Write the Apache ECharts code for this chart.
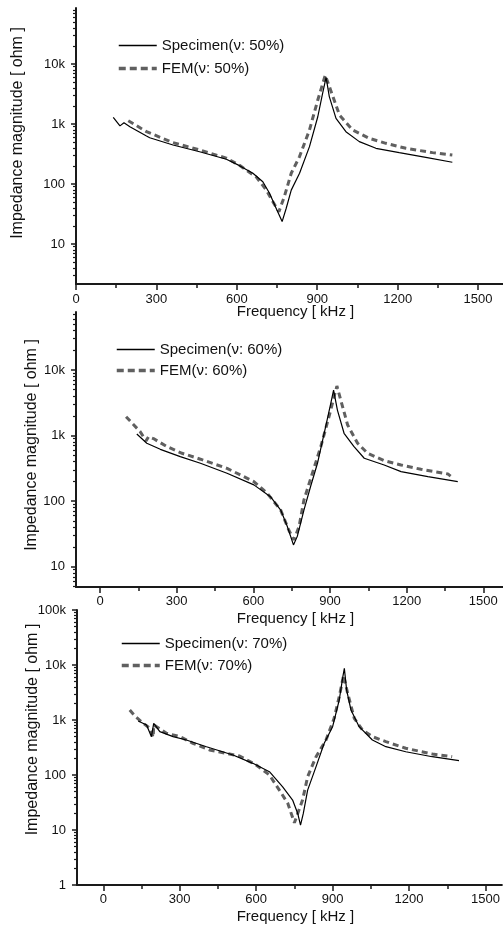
<!DOCTYPE html>
<html><head><meta charset="utf-8">
<script src="https://cdn.jsdelivr.net/npm/echarts@6/dist/echarts.min.js"></script>
<style>html,body{margin:0;padding:0;background:#fff}#c{width:503px;height:927px}</style>
</head><body><div id="c"></div>
<script>
// ---- tick values ----
const xTicks = [0, 300, 600, 900, 1200, 1500];
const xMinorTicks = [150, 450, 750, 1050, 1350];
const yTicks = [1, 10, 100, 1000, 10000, 100000];

// ---- data: frequency [kHz] / impedance [ohm] ----
const spec50F = [139,164,179,201,263,275,282,362,461,561,610,660,697,722,747,769,784,803,834,871,902,920,933,945,970,1007,1057,1119,1206,1305,1404];
const spec50Z = [1290,930,1050,900,630,590,600,447,345,258,202,151,109,70,39,23.6,39,79,151,419,1320,3250,6000,2860,1240,745,508,393,333,278,230];
const fem50F  = [195,263,362,461,561,610,673,710,734,757,777,803,834,871,902,930,952,983,1032,1094,1156,1231,1330,1404];
const fem50Z  = [1135,745,489,369,270,205,130,79,51,34.5,61,151,286,794,2510,6500,3460,1410,794,577,476,393,333,304];

const spec60F = [144,183,236,314,393,497,602,667,707,733,757,772,798,824,851,883,903,914,929,955,994,1034,1112,1178,1283,1400];
const spec60Z = [1057,764,617,478,378,266,177,117,73,41,21.5,29,73,167,378,1370,3100,4950,2450,1084,678,451,356,282,237,199];
const fem60F  = [102,124,157,180,190,209,262,321,393,497,602,654,707,739,759,779,798,831,864,896,916,927,942,969,1008,1047,1112,1178,1256,1361,1372];
const fem60Z  = [1940,1570,1150,830,960,900,678,537,436,316,199,132,73,36,25.6,41,104,266,678,1940,3920,5700,3490,1450,764,537,414,356,306,260,240];

const spec70F = [137,170,189,198,222,274,326,405,509,587,652,704,743,763,774,785,802,835,867,900,926,940,946,955,972,1004,1056,1109,1187,1291,1396];
const spec70Z = [959,811,498,871,614,498,433,327,231,163,115,61,35,20,12.3,20,53,142,377,757,2310,6100,8700,3510,1520,757,433,327,265,215,182];
const fem70F  = [104,124,157,183,196,198,209,248,300,352,417,535,600,652,691,724,750,763,782,802,835,874,906,926,943,959,985,1017,1056,1109,1187,1291,1369];
const fem70Z  = [1520,1180,871,705,484,811,757,573,500,377,285,221,152,100,53,30.6,13.5,20,35,93,215,433,1072,2660,6500,3055,1072,658,498,404,306,241,215];

const pct = ['50%', '60%', '70%'];
const specF = [spec50F, spec60F, spec70F], specZ = [spec50Z, spec60Z, spec70Z];
const femF = [fem50F, fem60F, fem70F], femZ = [fem50Z, fem60Z, fem70Z];

// ---- layout ----
const panels = [
  {left: 76, top: 8,   width: 427, height: 276, xMin: 0,   xMax: 1593, yMin: 2.15, yMax: 85800,
   legTop: 38, legLeft: 117, legGap: 8, xNameGap: 20, yNameGap: 50, yNamePad: 26, xLabMargin: 9},
  {left: 76, top: 312, width: 427, height: 275, xMin: -94, xMax: 1577, yMin: 4.9, yMax: 76700,
   legTop: 342, legLeft: 115, legGap: 6, xNameGap: 24, yNameGap: 36, yNamePad: 9, xLabMargin: 8},
  {left: 77, top: 610, width: 426, height: 275, xMin: -103, xMax: 1564, yMin: 1, yMax: 100000,
   legTop: 636, legLeft: 120, legGap: 7, xNameGap: 24, yNameGap: 36, yNamePad: 36, xLabMargin: 8}
];

const FONT = "'Liberation Sans', Arial, sans-serif";
const AX = '#1a1a1a';
const zip = (a, b) => a.map((v, i) => [v, b[i]]);
const yFmt = v => v >= 1000 ? (v / 1000) + 'k' : String(v);

const grids = [], xAxes = [], yAxes = [], series = [], legends = [];
panels.forEach((p, i) => {
  grids.push({left: p.left, top: p.top, width: p.width, height: p.height, containLabel: false});
  const yMinor = [];
  [1, 10, 100, 1000, 10000].forEach(d => { for (let k = 2; k <= 9; k++) { const v = k * d; if (v > p.yMin && v < p.yMax) yMinor.push(v); } });
  const yMajor = yTicks.filter(v => v >= p.yMin && v <= p.yMax);
  xAxes.push({
    type: 'value', gridIndex: i, min: p.xMin, max: p.xMax, position: 'bottom',
    axisLine: {show: true, onZero: false, lineStyle: {color: AX, width: 2}},
    axisTick: {show: true, customValues: xTicks, length: 6, lineStyle: {color: AX, width: 1.5}},
    axisLabel: {customValues: xTicks, formatter: v => String(v), margin: p.xLabMargin, fontSize: 13, color: '#111', fontFamily: FONT},
    splitLine: {show: false},
    name: 'Frequency [ kHz ]', nameLocation: 'middle', nameGap: p.xNameGap, nameMoveOverlap: false,
    nameTextStyle: {fontSize: 15, color: '#111', fontFamily: FONT, padding: [0, 0, 0, 12]}
  });
  xAxes.push({
    type: 'value', gridIndex: i, min: p.xMin, max: p.xMax, position: 'bottom',
    axisLine: {show: false, onZero: false},
    axisTick: {show: true, customValues: xMinorTicks, length: 4, lineStyle: {color: AX, width: 1.5}},
    axisLabel: {show: false}, splitLine: {show: false}
  });
  yAxes.push({
    type: 'log', logBase: 10, gridIndex: i, min: p.yMin, max: p.yMax, position: 'left',
    axisLine: {show: true, onZero: false, lineStyle: {color: AX, width: 2}},
    axisTick: {show: true, customValues: yMajor, length: 5, lineStyle: {color: AX, width: 1.5}},
    axisLabel: {customValues: yMajor, formatter: yFmt, margin: 11, fontSize: 13, color: '#111', fontFamily: FONT},
    splitLine: {show: false},
    name: 'Impedance magnitude [ ohm ]', nameLocation: 'middle', nameGap: p.yNameGap, nameMoveOverlap: false,
    nameTextStyle: {fontSize: 16, color: '#111', fontFamily: FONT, padding: [0, 0, 0, p.yNamePad]}
  });
  yAxes.push({
    type: 'log', logBase: 10, gridIndex: i, min: p.yMin, max: p.yMax, position: 'left',
    axisLine: {show: false, onZero: false},
    axisTick: {show: true, customValues: yMinor, length: 3, lineStyle: {color: AX, width: 1.2}},
    axisLabel: {show: false}, splitLine: {show: false}
  });
  const sName = 'Specimen(ν: ' + pct[i] + ')', fName = 'FEM(ν: ' + pct[i] + ')';
  series.push({
    type: 'line', name: fName, xAxisIndex: 2 * i, yAxisIndex: 2 * i, data: zip(femF[i], femZ[i]),
    symbol: 'none', showSymbol: false, z: 2, color: '#606060',
    lineStyle: {color: '#606060', width: 3, type: [6, 4]}
  });
  series.push({
    type: 'line', name: sName, xAxisIndex: 2 * i, yAxisIndex: 2 * i, data: zip(specF[i], specZ[i]),
    symbol: 'none', showSymbol: false, z: 3, color: '#000',
    lineStyle: {color: '#000', width: 1.2}
  });
  legends.push({
    data: [
      {name: sName, lineStyle: {color: '#000', width: 1.4, type: 'solid'}},
      {name: fName, lineStyle: {color: '#606060', width: 3.5, type: [7, 4]}}
    ],
    orient: 'vertical', left: p.legLeft, top: p.legTop, padding: 0,
    itemWidth: 38, itemHeight: 14, itemGap: p.legGap,
    itemStyle: {opacity: 0},
    textStyle: {fontSize: 15, color: '#111', fontFamily: FONT}
  });
});

const chart = echarts.init(document.getElementById('c'), null, {renderer: 'canvas'});
chart.setOption({
  animation: false, backgroundColor: '#fff',
  textStyle: {fontFamily: FONT},
  grid: grids, xAxis: xAxes, yAxis: yAxes, series: series, legend: legends
});
</script></body></html>
